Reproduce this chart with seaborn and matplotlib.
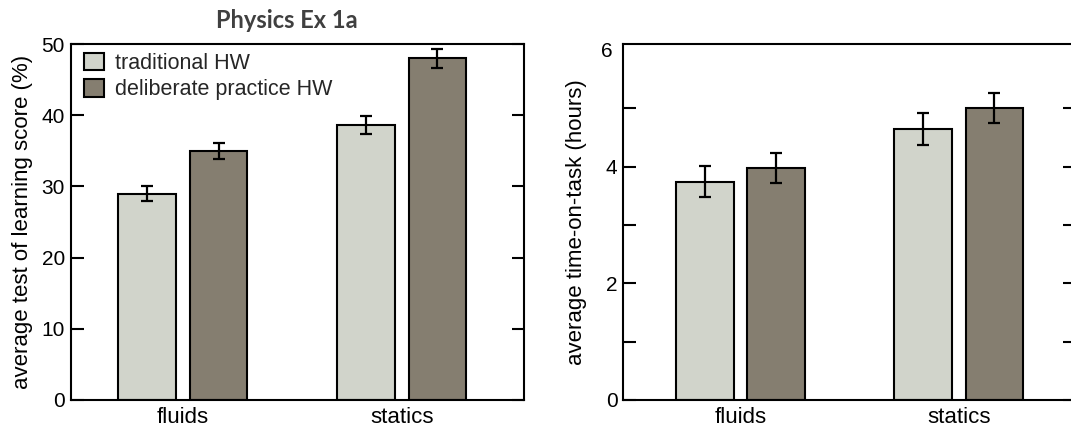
import matplotlib
matplotlib.use('Agg')
import pandas as pd
import matplotlib.pyplot as plt
import seaborn as sns

subjects = ['fluids', 'statics']
hw_types = ['traditional HW', 'deliberate practice HW']

score_trad = [29.0, 38.6]
score_dp = [35.0, 48.0]
score_err_trad = [1.1, 1.3]
score_err_dp = [1.1, 1.3]

hours_trad = [3.74, 4.64]
hours_dp = [3.98, 5.0]
hours_err_trad = [0.27, 0.27]
hours_err_dp = [0.26, 0.26]

colors = ['#d1d4cb', '#857e70']

sns.set_theme(style='white')
plt.rcParams['font.family'] = ['Liberation Sans', 'DejaVu Sans']


def make_df(trad, dp):
    rows = []
    for s, t, d in zip(subjects, trad, dp):
        rows.append({'subject': s, 'hw': hw_types[0], 'value': t})
        rows.append({'subject': s, 'hw': hw_types[1], 'value': d})
    return pd.DataFrame(rows)


def bars(ax, trad, dp, err_trad, err_dp):
    df = make_df(trad, dp)
    sns.barplot(data=df, x='subject', y='value', hue='hw', order=subjects, hue_order=hw_types,
                palette=colors, saturation=1, width=0.652, gap=0.19, edgecolor='black',
                linewidth=1.5, errorbar=None, legend=False, ax=ax)
    conts = list(ax.containers)[:2]
    for cont, errs in zip(conts, [err_trad, err_dp]):
        xs = [p.get_x() + p.get_width() / 2 for p in cont.patches]
        ys = [p.get_height() for p in cont.patches]
        ax.errorbar(xs, ys, yerr=errs, fmt='none', ecolor='black', elinewidth=1.6,
                    capsize=4, capthick=1.6, zorder=5)
    for sp in ax.spines.values():
        sp.set_visible(True)
        sp.set_linewidth(1.5)
        sp.set_color('black')
    ax.tick_params(axis='y', which='both', direction='in', left=True, right=True,
                   length=9, width=1.5, labelsize=15, pad=4, colors='black')
    ax.tick_params(axis='x', length=0, labelsize=16, pad=5, colors='black')
    ax.set_xlabel('')
    return conts


fig = plt.figure(figsize=(10.71, 4.32), dpi=100)
ax1 = fig.add_axes([0.0659, 0.0741, 0.4233, 0.824])
ax2 = fig.add_axes([0.5817, 0.0741, 0.4225, 0.824])

conts = bars(ax1, score_trad, score_dp, score_err_trad, score_err_dp)
ax1.set_xlim(-0.513, 1.558)
ax1.set_ylim(0, 50)
ax1.set_yticks([0, 10, 20, 30, 40, 50])
ax1.set_ylabel('average test of learning score (%)', fontsize=16, labelpad=6.5, color='black')
ax1.legend(handles=conts, labels=hw_types, loc='upper left', bbox_to_anchor=(0.0296, 0.975),
           frameon=False, fontsize=15.5, handlelength=0.95, handleheight=0.85,
           handletextpad=0.5, labelspacing=0.25, borderpad=0, borderaxespad=0)

bars(ax2, hours_trad, hours_dp, hours_err_trad, hours_err_dp)
ax2.set_xlim(-0.539, 1.535)
ax2.set_ylim(0, 6.1)
ax2.set_yticks(range(6))
ax2.set_yticklabels(['0', '', '2', '', '4', ''])
ax2.set_yticks([6], minor=True)
ax2.set_yticklabels(['6'], minor=True)
ax2.tick_params(axis='y', which='minor', length=0, labelsize=15, pad=7.5)
ax2.set_ylabel('average time-on-task (hours)', fontsize=16, labelpad=10, color='black')

fig.text(0.2677, 0.935, 'Physics Ex 1a', ha='center', va='baseline', fontsize=17,
         fontweight='bold', family='Lato', color='#404040')

fig.savefig('out.png', dpi=100)
